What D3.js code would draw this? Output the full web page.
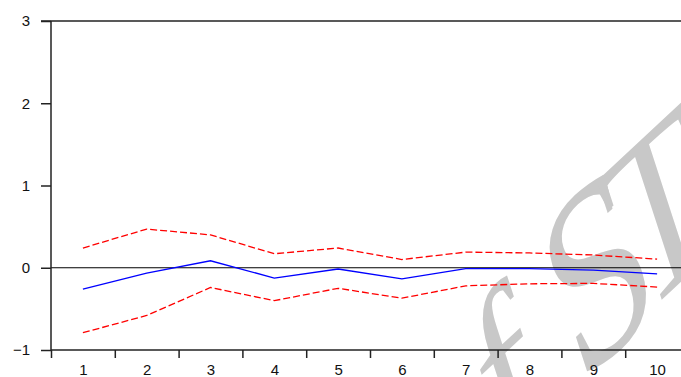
<!DOCTYPE html>
<html>
<head>
<meta charset="utf-8">
<script src="https://cdn.jsdelivr.net/npm/d3@7"></script>
<style>
  html, body { margin: 0; padding: 0; background: #fff; overflow: hidden; }
  svg { display: block; }
</style>
</head>
<body>
<script>
const periods = [1, 2, 3, 4, 5, 6, 7, 8, 9, 10];
const response = [-0.26, -0.065, 0.085, -0.125, -0.015, -0.135, -0.01, -0.01, -0.03, -0.075];
const upperBand = [0.24, 0.47, 0.40, 0.17, 0.24, 0.10, 0.19, 0.18, 0.155, 0.105];
const lowerBand = [-0.79, -0.58, -0.24, -0.40, -0.25, -0.37, -0.22, -0.195, -0.19, -0.235];
const yTicks = [-1, 0, 1, 2, 3];

const width = 681;
const height = 377;
const padLeft = 51, padTop = 21, axisBottom = 350, plotRight = 689;

const svg = d3.select("body")
  .append("svg")
  .attr("width", width)
  .attr("height", height);

const x = d3.scaleLinear().domain([0.5, 10.5]).range([padLeft, plotRight]);
const y = d3.scaleLinear().domain([-1, 3]).range([axisBottom, padTop]);

// watermark letters, slanted and tilted
const mark = [
  { ch: "f", at: [530, 444], size: 200 },
  { ch: "S", at: [622, 346], size: 215 },
  { ch: "T", at: [684, 279], size: 200 }
];
svg.append("g")
  .selectAll("text")
  .data(mark)
  .join("text")
  .attr("transform", (d) => `translate(${d.at[0]},${d.at[1]}) rotate(-43) skewX(-25)`)
  .attr("text-anchor", "middle")
  .attr("font-family", "Liberation Serif, DejaVu Serif, serif")
  .attr("font-size", (d) => d.size)
  .attr("fill", "#c8c8c8")
  .text((d) => d.ch);

// top frame line
svg.append("line")
  .attr("x1", padLeft - 10).attr("x2", width)
  .attr("y1", padTop).attr("y2", padTop)
  .attr("stroke", "#222").attr("stroke-width", 1.5);

// zero line
svg.append("line")
  .attr("x1", padLeft).attr("x2", width)
  .attr("y1", y(0)).attr("y2", y(0))
  .attr("stroke", "#000").attr("stroke-width", 1);

const line = d3.line()
  .x((d, i) => x(periods[i]))
  .y((d) => y(d));

svg.append("path")
  .datum(upperBand)
  .attr("d", line)
  .attr("fill", "none")
  .attr("stroke", "#ff0000")
  .attr("stroke-width", 1.3)
  .attr("stroke-dasharray", "7,3");

svg.append("path")
  .datum(lowerBand)
  .attr("d", line)
  .attr("fill", "none")
  .attr("stroke", "#ff0000")
  .attr("stroke-width", 1.3)
  .attr("stroke-dasharray", "7,3");

svg.append("path")
  .datum(response)
  .attr("d", line)
  .attr("fill", "none")
  .attr("stroke", "#0000ff")
  .attr("stroke-width", 1.3);

// y axis
const yAxis = svg.append("g")
  .attr("transform", `translate(${padLeft},0)`)
  .call(d3.axisLeft(y).tickValues(yTicks).tickSize(10).tickPadding(11).tickFormat(d3.format("d")));

// x axis ticks at period boundaries
const xAxis = svg.append("g")
  .attr("transform", `translate(0,${axisBottom})`)
  .call(d3.axisBottom(x).tickValues(d3.range(0.5, 11, 1)).tickSize(8).tickFormat(""));

// x labels at period centres
const xLabels = svg.append("g")
  .attr("transform", `translate(0,${axisBottom})`)
  .call(d3.axisBottom(x).tickValues(periods).tickSize(0).tickPadding(14).tickFormat(d3.format("d")));
xLabels.select(".domain").remove();

svg.selectAll(".domain").attr("stroke", "#222").attr("stroke-width", 1.5);
svg.selectAll(".tick line").attr("stroke", "#222").attr("stroke-width", 1.5);
svg.selectAll(".tick text")
  .attr("font-family", "Liberation Sans, Arial, sans-serif")
  .attr("font-size", 15)
  .attr("fill", "#111");

// bottom axis extends to right edge
xAxis.select(".domain").attr("d", `M${padLeft},0H${width}`);
yAxis.select(".domain").attr("d", `M0,${padTop}V${axisBottom}`);
</script>
</body>
</html>
